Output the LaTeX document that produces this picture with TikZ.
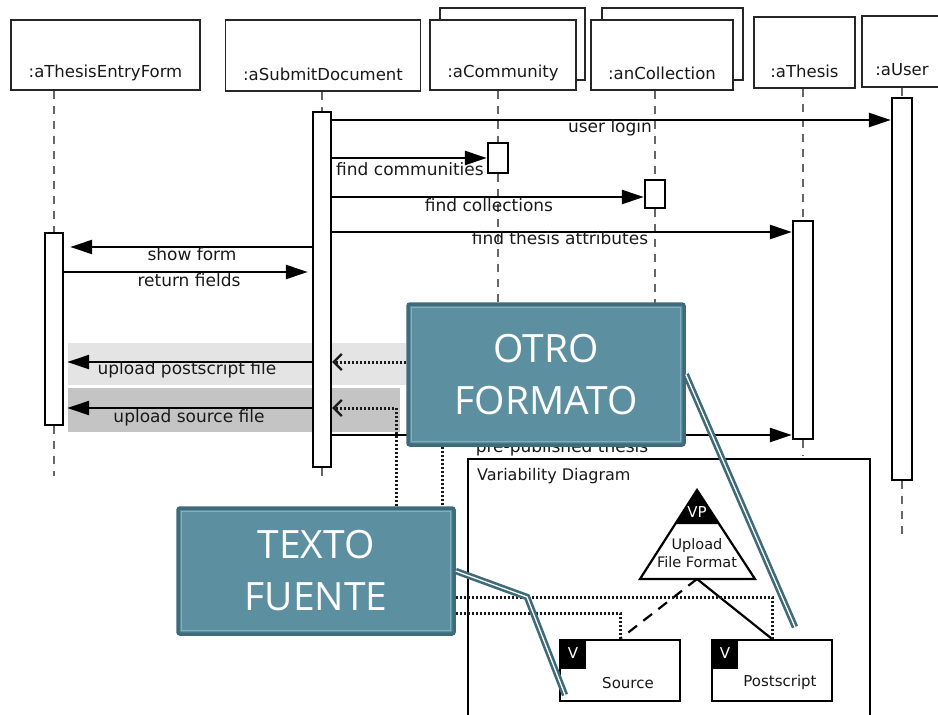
\documentclass[tikz,border=0pt]{standalone}
\usepackage{fontspec}
\setmainfont{DejaVu Sans}
\newfontfamily\calloutfont{Open Sans}
\usetikzlibrary{arrows.meta,positioning}

\definecolor{calloutfill}{RGB}{92,144,161}
\definecolor{calloutdark}{RGB}{62,106,122}
\definecolor{calloutlight}{RGB}{130,175,190}
\definecolor{bandlight}{RGB}{228,228,228}
\definecolor{banddark}{RGB}{196,196,196}

\tikzset{
  lifehead/.style={draw=black!85, line width=1.8pt, fill=white, inner sep=0pt},
  headtxt/.style={font=\fontsize{16.5}{19}\selectfont, text=black!90, inner sep=0pt},
  lifeline/.style={draw=black!60, line width=1.9pt, dash pattern=on 8pt off 7pt},
  actbox/.style={draw, line width=2.4pt, fill=white, inner sep=0pt},
  msg/.style={line width=2.4pt, -{Triangle[length=22pt,width=14pt]}},
  msgtxt/.style={font=\fontsize{17}{19}\selectfont, text=black!90, inner sep=0pt},
  dotlink/.style={draw=black!90, line width=3pt, dash pattern=on 2pt off 2pt},
  openback/.style={-{Straight Barb[length=8pt,width=16pt,line width=2.2pt]}},
  callout/.style={draw=calloutdark, line width=3.5pt, fill=calloutfill, rounded corners=2pt,
    text=white, align=center, font=\calloutfont\fontsize{39}{52}\selectfont},
  calloutline/.style={draw=calloutdark, line width=2.6pt, double=white, double distance=1.3pt},
  vtxt/.style={font=\fontsize{15}{17}\selectfont, text=black!90, inner sep=0pt}
}

\begin{document}
\begin{tikzpicture}[x=1pt,y=-1pt]
\useasboundingbox (0,0) rectangle (938,715);

% lifeline heads
\node[lifehead, minimum width=145pt, minimum height=72pt] (commBack) at (512.5,44) {};
\node[lifehead, minimum width=141pt, minimum height=72pt] (collBack) at (672.5,44) {};
\node[lifehead, minimum width=189pt, minimum height=70pt] (tef) at (105.5,55) {};
\node[lifehead, minimum width=195pt, minimum height=71pt] (sd) at (323,55.5) {};
\node[lifehead, minimum width=146pt, minimum height=70pt] (comm) at (503,55) {};
\node[lifehead, minimum width=142pt, minimum height=70pt] (coll) at (662,55) {};
\node[lifehead, minimum width=101pt, minimum height=71pt] (the) at (804.5,52.5) {};
\node[lifehead, minimum width=80pt, minimum height=71pt] (usr) at (902,51.5) {};

\node[headtxt] (tefT) at ([yshift=18pt]tef.south) {:aThesisEntryForm};
\node[headtxt] (sdT) at ([yshift=18pt]sd.south) {:aSubmitDocument};
\node[headtxt] (commT) at ([yshift=18pt]comm.south) {:aCommunity};
\node[headtxt] (collT) at ([yshift=18pt]coll.south) {:anCollection};
\node[headtxt] (theT) at ([yshift=18pt]the.south) {:aThesis};
\node[headtxt] (usrT) at ([yshift=18pt]usr.south) {:aUser};

% activations (placed first so the lifelines can refer to them)
\node[actbox, minimum width=18pt, minimum height=192pt] (tefA) at (54,329) {};
\node[actbox, minimum width=18pt, minimum height=355pt] (sdA) at (322,289.5) {};
\node[actbox, minimum width=20pt, minimum height=30pt] (commA) at (498,158) {};
\node[actbox, minimum width=20pt, minimum height=28pt] (collA) at (655,194) {};
\node[actbox, minimum width=20pt, minimum height=218pt] (theA) at (803,330) {};
\node[actbox, minimum width=20pt, minimum height=382pt] (usrA) at (902,289) {};

% lifelines
\draw[lifeline] (tefA |- tef.south) -- (tefA.north);
\draw[lifeline] (tefA.south) -- ++(0,50);
\draw[lifeline] (sdA |- sd.south) -- (sdA.north);
\draw[lifeline] (sdA.south) -- ++(0,12);
\draw[lifeline] (commA |- comm.south) -- (commA.north);
\draw[lifeline] (commA.south) -- ++(0,250);
\draw[lifeline] (collA |- coll.south) -- (collA.north);
\draw[lifeline] (collA.south) -- ++(0,220);
\draw[lifeline] (theA |- the.south) -- (theA.north);
\draw[lifeline] (theA.south) -- ++(0,16);
\draw[lifeline] (usrA |- usr.south) -- (usrA.north);
\draw[lifeline] (usrA.south) -- ++(0,55);

% grey bands
\fill[bandlight] (68,343) rectangle (406,385);
\fill[banddark] (68,388) rectangle (400,432);

% redraw activations over lifelines and bands
\node[actbox, minimum width=18pt, minimum height=192pt] at (tefA) {};
\node[actbox, minimum width=18pt, minimum height=355pt] at (sdA) {};
\node[actbox, minimum width=20pt, minimum height=30pt] at (commA) {};
\node[actbox, minimum width=20pt, minimum height=28pt] at (collA) {};
\node[actbox, minimum width=20pt, minimum height=218pt] at (theA) {};
\node[actbox, minimum width=20pt, minimum height=382pt] at (usrA) {};

% message rows
\coordinate (rLogin) at (0,120);
\coordinate (rComm) at (0,158);
\coordinate (rColl) at (0,197);
\coordinate (rAttr) at (0,232);
\coordinate (rShow) at (0,247);
\coordinate (rRet) at (0,272);
\coordinate (rPs) at (0,362);
\coordinate (rSrc) at (0,408);
\coordinate (rPre) at (0,435);

\draw[msg] (sdA.east |- rLogin) -- (usrA.west |- rLogin);
\draw[msg] (sdA.east |- rComm) -- (commA.west |- rComm);
\draw[msg] (sdA.east |- rColl) -- (collA.west |- rColl);
\draw[msg] (sdA.east |- rAttr) -- (theA.west |- rAttr);
\draw[msg, shorten >=6pt] (sdA.west |- rShow) -- (tefA.east |- rShow);
\draw[msg, shorten >=4pt] (tefA.east |- rRet) -- (sdA.west |- rRet);
\draw[msg, shorten >=3pt] (sdA.west |- rPs) -- (tefA.east |- rPs);
\draw[msg, shorten >=3pt] (sdA.west |- rSrc) -- (tefA.east |- rSrc);
\draw[msg] (sdA.east |- rPre) -- (theA.west |- rPre);

\node[msgtxt] (loginL) at (610,128) {user login};
\node[msgtxt] (commL) at (410,169) {find communities};
\node[msgtxt] (collL) at (489,205) {find collections};
\node[msgtxt] (attrL) at (560,238) {find thesis attributes};
\node[msgtxt] (showL) at (192,254) {show form};
\node[msgtxt] (retL) at (189,280) {return fields};
\node[msgtxt] (psL) at (187,370) {upload postscript file};
\node[msgtxt] (srcL) at (189,418) {upload source file};
\node[msgtxt] (preL) at (562,448) {pre-published thesis};

% variability diagram
\node[draw, line width=1.8pt, fill=white, minimum width=402pt, minimum height=275pt,
  anchor=north west, inner sep=0pt] (vd) at (467,458) {};
\node[vtxt, anchor=west, font=\fontsize{16}{18}\selectfont] (vdT) at (477,476) {Variability Diagram};

\coordinate (vpTop) at (697,490);
\coordinate (vpL) at (640,579);
\coordinate (vpR) at (755,579);
\coordinate (vpBase) at (697,579);
\draw[line width=2.2pt, fill=white, line join=miter] (vpTop) -- (vpL) -- (vpR) -- cycle;
\fill (vpTop) -- (675,524) -- (719,524) -- cycle;
\node[vtxt, text=white] (vpT) at (697,512) {VP};
\node[vtxt, align=center, font=\fontsize{14.5}{18}\selectfont] (vpName) at (697,553) {Upload\\File Format};

\node[draw, line width=2.2pt, fill=white, minimum width=120pt, minimum height=61pt, inner sep=0pt] (src) at (620,670.5) {};
\node[draw, line width=2.2pt, fill=white, minimum width=120pt, minimum height=61pt, inner sep=0pt] (ps) at (772,670.5) {};
\fill (src.north west) rectangle ++(27,30);
\fill (ps.north west) rectangle ++(27,30);
\node[vtxt, text=white] (srcV) at (573,653) {V};
\node[vtxt, text=white] (psV) at (725,653) {V};
\node[vtxt] (srcT) at (628,683) {Source};
\node[vtxt] (psT) at (780,682) {Postscript};

\draw[line width=2.2pt, dash pattern=on 11pt off 8pt] (vpBase) -- (src.north);
\draw[line width=2.2pt] (vpBase) -- (ps.north);

% callout boxes
\node[callout, minimum width=276pt, minimum height=141pt] (otro) at (546,374.5) {OTRO\\FORMATO};
\node[callout, minimum width=276pt, minimum height=126pt] (texto) at (316,571) {TEXTO\\FUENTE};
\draw[calloutlight, line width=1.2pt] ([shift={(5pt,5pt)}]otro.south west) rectangle ([shift={(-5pt,-5pt)}]otro.north east);
\draw[calloutlight, line width=1.2pt] ([shift={(5pt,5pt)}]texto.south west) rectangle ([shift={(-5pt,-5pt)}]texto.north east);

% dotted links
\coordinate (kSrc) at (396,0);
\coordinate (kMid) at (442,0);
\coordinate (rA) at (0,597);
\coordinate (rB) at (0,613);
\draw[dotlink, openback] (otro.west |- rPs) -- (sdA.east |- rPs);
\draw[dotlink, openback] (kSrc |- texto.north) |- (sdA.east |- rSrc);
\draw[dotlink] (kMid |- otro.south) -- (kMid |- texto.north);
\draw[dotlink] (texto.east |- rA) -| (ps.north);
\draw[dotlink] (texto.east |- rB) -| (src.north);

% callout pointers
\coordinate (tBend) at (527,597);
\coordinate (tEnd) at (565,695);
\coordinate (oEnd) at (795,627);
\draw[calloutline] (texto.east) -- (tBend) -- (tEnd);
\draw[calloutline] (otro.east) -- (oEnd);
\end{tikzpicture}
\end{document}
